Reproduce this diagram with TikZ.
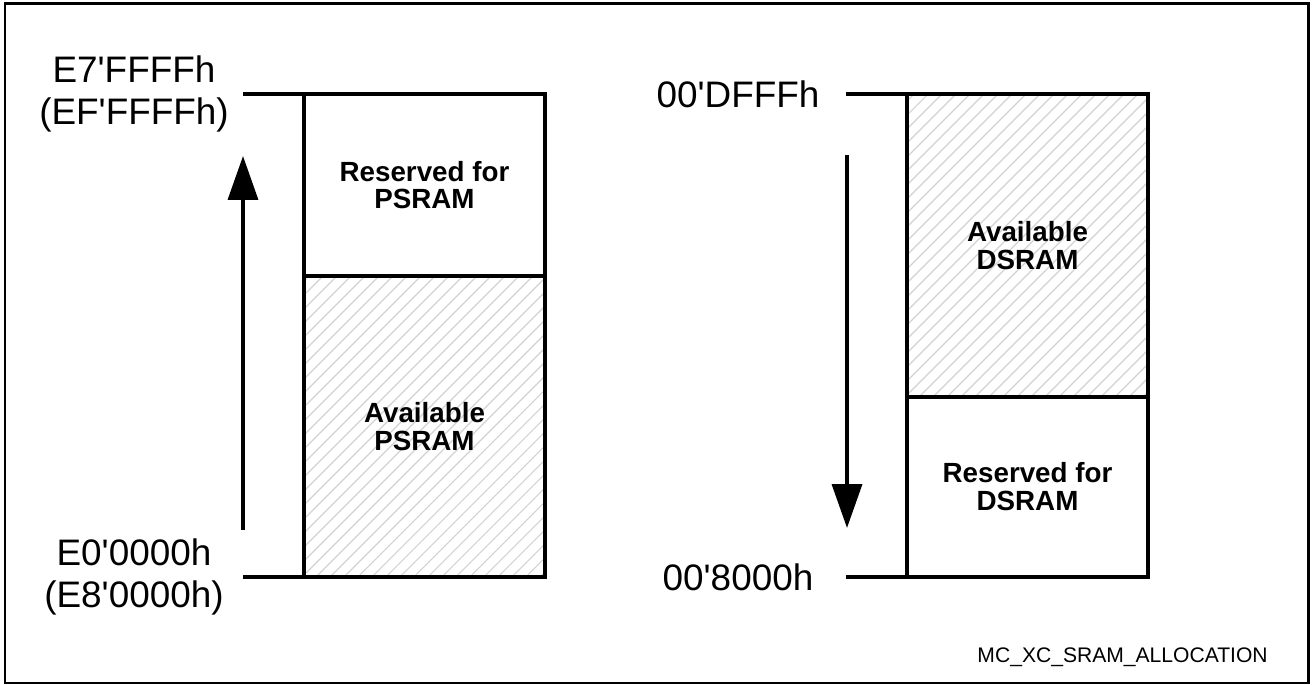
\documentclass[tikz,border=0pt]{standalone}
\usepackage{fontspec}
\setmainfont{Liberation Sans}
\usepackage{tikz}
\usetikzlibrary{arrows.meta, positioning}

\begin{document}
\begin{tikzpicture}[x=0.02cm, y=-0.02cm,
  membox/.style={draw, line width=2pt, outer sep=0pt, inner sep=0pt, minimum width=4.82cm, align=center,
    font=\bfseries\fontsize{15.8}{15.8}\selectfont},
  hatched/.style={path picture={
    \foreach \k in {0,...,42}
      \draw[gray!35, line width=0.65pt] ([xshift={\k*0.28cm-6.2cm}]path picture bounding box.south west) -- ++(400,-400);
  }},
  addr/.style={align=center, font=\fontsize{21}{24}\selectfont},
  tick/.style={line width=2pt},
  arr/.style={-{Triangle[length=25pt, width=17pt]}, line width=2.2pt}
]
\useasboundingbox (0,0) rectangle (1314,685);
\draw[line width=1.7pt] (5,4) rectangle (1308,683);

\node[membox, minimum height=3.64cm] (psres) at (424.5,185) {Reserved for\\PSRAM};
\node[membox, hatched, minimum height=6.02cm, below=0cm of psres] (psfree) {Available\\PSRAM};
\draw[tick] (psres.north west) -- +(-61,0);
\draw[tick] (psfree.south west) -- +(-61,0);
\node[addr] (pstop) at (134,94) {E7\textquotesingle FFFFh\\(EF\textquotesingle FFFFh)};
\node[addr] (psbot) at (134,577) {E0\textquotesingle 0000h\\(E8\textquotesingle 0000h)};
\coordinate (upfoot) at (243,530);
\coordinate (uptip) at (243,156);
\draw[arr] (upfoot) -- (uptip);

\node[membox, hatched, minimum height=6.06cm] (dsfree) at (1027.5,245.5) {Available\\DSRAM};
\node[membox, minimum height=3.60cm, below=0cm of dsfree] (dsres) {Reserved for\\DSRAM};
\draw[tick] (dsfree.north west) -- +(-61,0);
\draw[tick] (dsres.south west) -- +(-61,0);
\node[addr] (dstop) at (738,94) {00\textquotesingle DFFFh};
\node[addr] (dsbot) at (738,577) {00\textquotesingle 8000h};
\coordinate (downtop) at (847,155);
\coordinate (downtip) at (847,528);
\draw[arr] (downtop) -- (downtip);

\node[anchor=base east, inner sep=0pt, font=\fontsize{12}{14}\selectfont] (figid) at (1268,662) {MC\_XC\_SRAM\_ALLOCATION};
\end{tikzpicture}
\end{document}
